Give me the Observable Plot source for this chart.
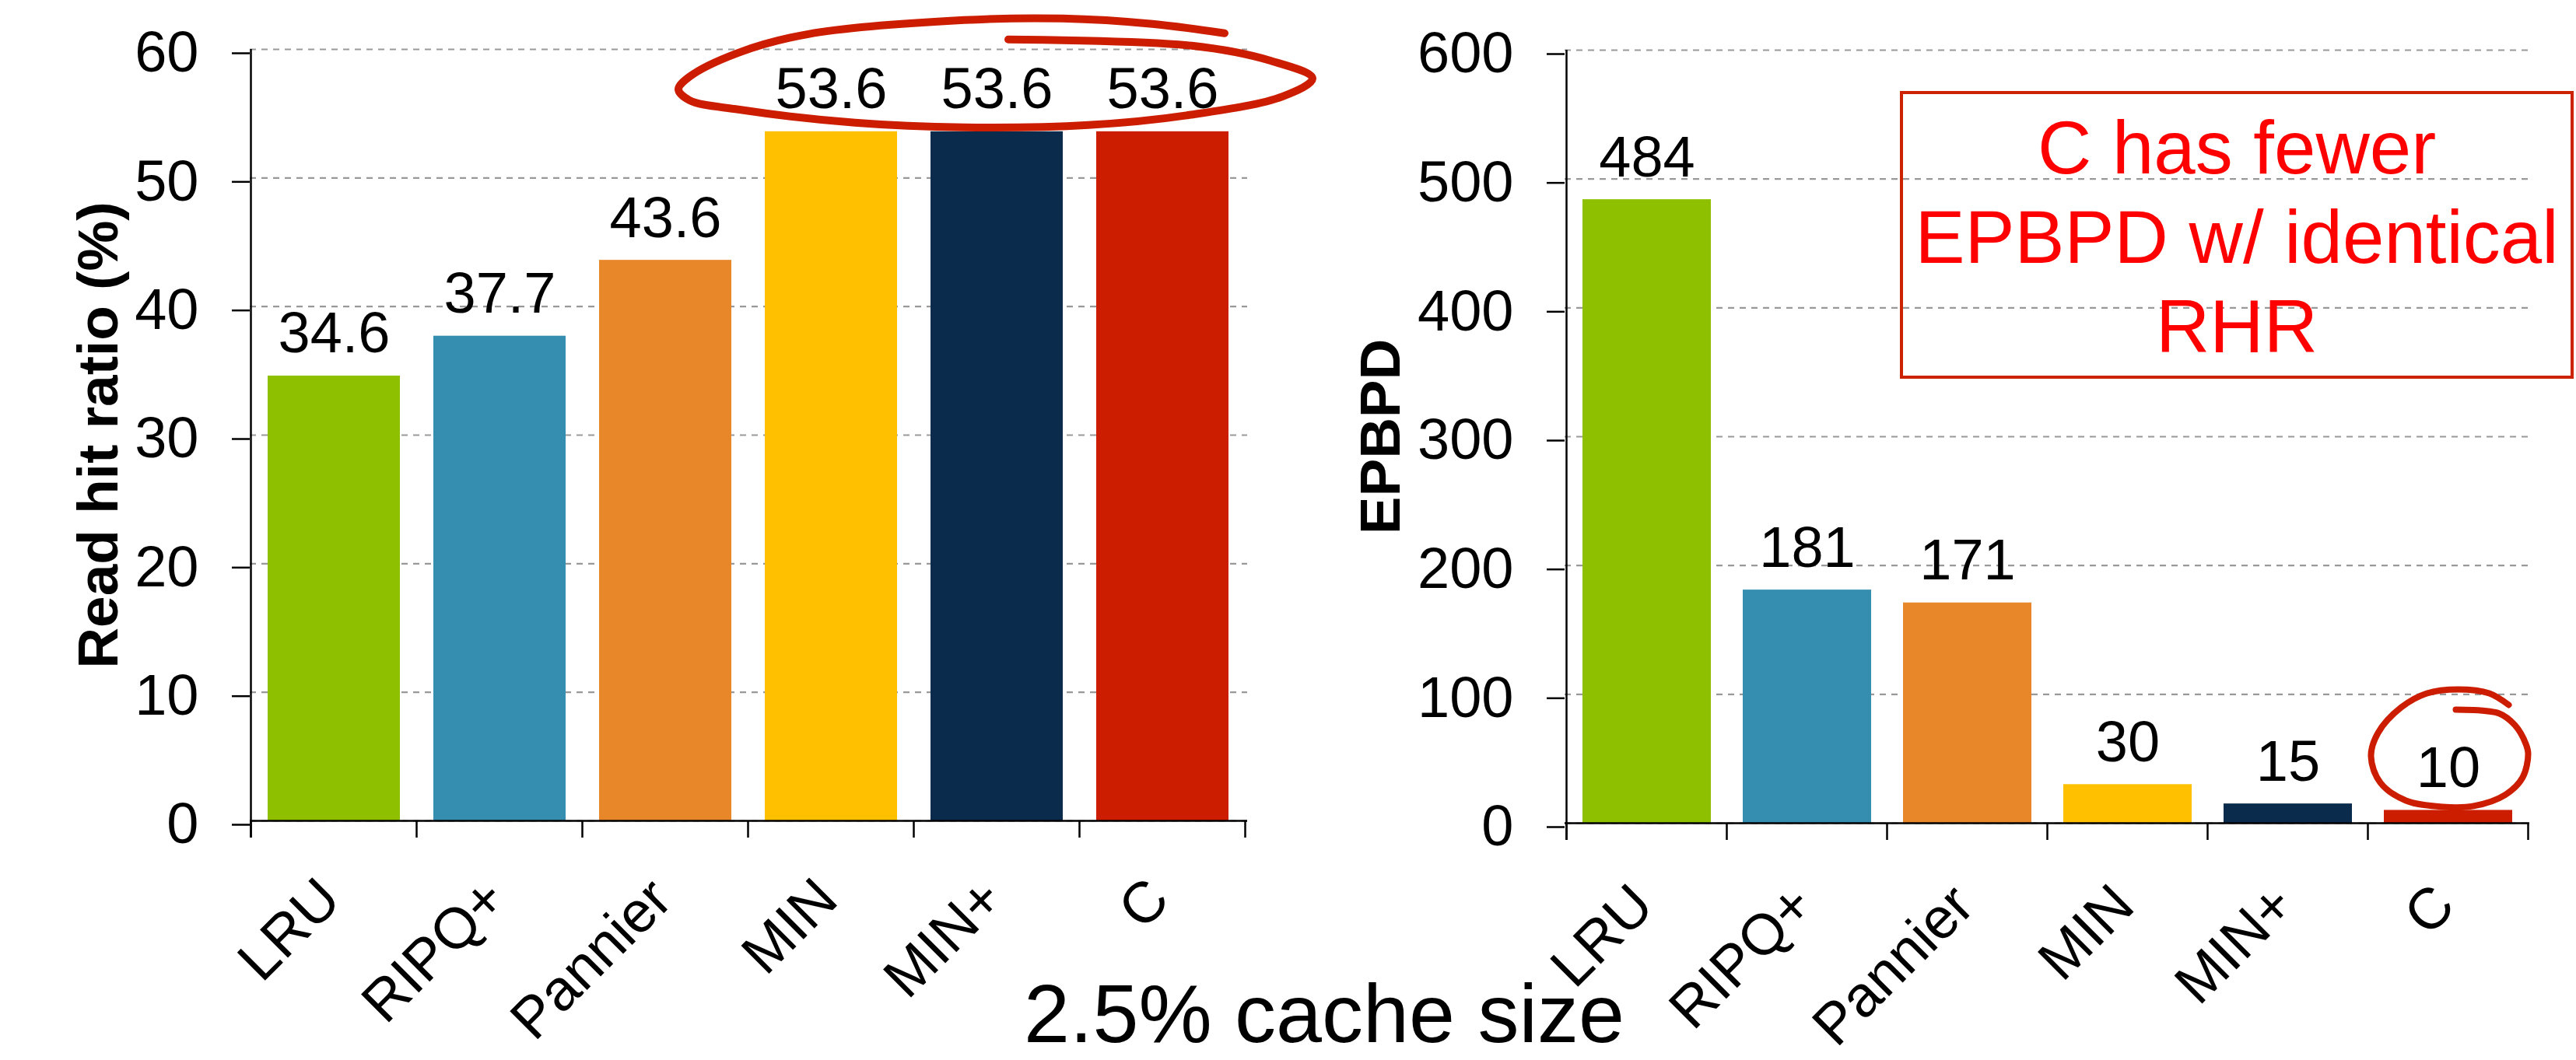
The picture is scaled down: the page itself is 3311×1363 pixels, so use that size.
<!DOCTYPE html>
<html><head><meta charset="utf-8">
<script src="https://cdn.jsdelivr.net/npm/d3@7"></script>
<script src="https://cdn.jsdelivr.net/npm/@observablehq/plot@0.6"></script>
<style>
html,body{margin:0;padding:0;background:#fff;}
#page{position:relative;width:3311px;height:1363px;overflow:hidden;background:#fff;font-family:"Liberation Sans",Arial,sans-serif;}
#left{position:absolute;left:0;top:0;width:1700px;}
#right{position:absolute;left:1700px;top:0;width:1611px;}
#note{position:absolute;left:2442px;top:117px;width:858px;height:351px;padding-top:11px;border:4px solid #cc2200;color:#ff0000;font-size:96px;line-height:115px;text-align:center;}
#caption{position:absolute;left:1202px;width:1000px;top:1255px;height:96px;text-align:center;font-size:106px;line-height:96px;color:#000;}
svg{max-width:none !important;}
</style></head><body>
<div id="page">
 <div id="left"></div>
 <div id="right"></div>
 <div id="note">C has fewer<br>EPBPD w/ identical<br>RHR</div>
 <div id="caption">2.5% cache size</div>
</div>
<script>
const categories = ["LRU", "RIPQ+", "Pannier", "MIN", "MIN+", "C"];
const readHitRatio = [34.6, 37.7, 43.6, 53.6, 53.6, 53.6];
const epbpd = [484, 181, 171, 30, 15, 10];
const barColors = ["#8fc000", "#358eb0", "#e8872a", "#ffc000", "#0a2b4b", "#cc1d00"];
const leftTicks = [0, 10, 20, 30, 40, 50, 60];
const rightTicks = [0, 100, 200, 300, 400, 500, 600];
const leftTitle = "Read hit ratio (%)";
const rightTitle = "EPBPD";
const highlightLeft = ["MIN", "C"];   // hand-drawn ellipse spans these categories
const highlightRight = "C";           // hand-drawn circle around this label

function makeChart(o) {
  const data = categories.map((c, i) => ({name: c, value: o.values[i]}));
  const plot = Plot.plot({
    width: o.width, height: o.height,
    marginLeft: o.marginLeft, marginRight: o.marginRight, marginTop: o.marginTop, marginBottom: o.marginBottom,
    style: {fontFamily: "Liberation Sans, Arial, sans-serif", fontSize: "74px", color: "#000", background: "none", overflow: "visible"},
    x: {domain: categories, paddingInner: 0.2, paddingOuter: 0.1, label: null},
    y: {domain: [0, o.ticks[o.ticks.length - 1]], label: null},
    color: {domain: categories, range: barColors},
    marks: [
      Plot.gridY(o.ticks, {stroke: "#999", strokeOpacity: 1, strokeWidth: 2.2, strokeDasharray: "8,7"}),
      Plot.barY(data, {x: "name", y: "value", fill: "name"}),
      Plot.ruleY([0], {stroke: "#000", strokeWidth: 2.5}),
      Plot.axisY(o.ticks, {tickSize: 23, tickPadding: 43, strokeWidth: 2.5, fontSize: 74, dy: 5, tickFormat: d => String(d), label: null}),
      Plot.axisX({tickSize: 0, tickPadding: o.labelPad, tickRotate: -45, fontSize: 74, dx: -5, label: null}),
      Plot.text(data, {x: "name", y: "value", text: d => o.fmt(d.value), dy: -30, lineAnchor: "bottom", fontSize: 74}),
      Plot.text([o.title], {frameAnchor: "left", dx: o.titleDx, rotate: -90, textAnchor: "middle", lineAnchor: "bottom", fontWeight: "bold", fontSize: 73})
    ]
  });
  // boundary ticks on the category axis and the vertical axis line
  const sx = plot.scale("x"), sy = plot.scale("y");
  const bw = sx.bandwidth, step = sx.step, gap = (step - bw) / 2;
  const y0 = sy.apply(0), yTop = sy.apply(sy.domain[1]);
  const svg = d3.select(plot);
  const g = svg.append("g").attr("stroke", "#000").attr("stroke-width", 2.5);
  const bounds = categories.map(c => sx.apply(c) - gap);
  bounds.push(sx.apply(categories[categories.length - 1]) + bw + gap);
  bounds.forEach(x => g.append("line").attr("x1", x).attr("x2", x).attr("y1", y0).attr("y2", y0 + 22));
  g.append("line").attr("x1", bounds[0]).attr("x2", bounds[0]).attr("y1", yTop).attr("y2", y0 + 22);
  return {plot, sx, sy, svg, bw, step};
}

const L = makeChart({values: readHitRatio, ticks: leftTicks, fmt: d3.format(".1f"), width: 1700, height: 1250,
  marginLeft: 321, marginRight: 97, marginTop: 63, marginBottom: 195, title: leftTitle, titleDx: -171, labelPad: 88});
document.getElementById("left").appendChild(L.plot);

const R = makeChart({values: epbpd, ticks: rightTicks, fmt: d3.format("d"), width: 1611, height: 1250,
  marginLeft: 311, marginRight: 60, marginTop: 64, marginBottom: 192, title: rightTitle, titleDx: -213, labelPad: 93});
document.getElementById("right").appendChild(R.plot);

// hand-drawn pen strokes (annotation), offsets relative to the scaled label anchor
const pen = d3.line().curve(d3.curveCatmullRom.alpha(0.5));
const ellipseStroke = [[15,-118],[251,-110],[351,-91],[406,-68],[368,-45],[248,-21],[118,-8],[-42,-5],[-182,-11],
  [-332,-28],[-395,-40],[-409,-54],[-395,-70],[-332,-101],[-242,-125],[-42,-143],[85,-145],[200,-138],[293,-126]];
const circleStroke = [[10,-129],[66,-124],[86,-109],[100,-85],[103,-72],[96,-42],[73,-19],[33,-5],[-7,-4],[-54,-12],
  [-87,-35],[-99,-69],[-90,-99],[-60,-132],[-27,-150],[13,-155],[53,-150],[78,-135]];
{
  const c1 = L.sx.apply(highlightLeft[0]) + L.bw / 2, c2 = L.sx.apply(highlightLeft[1]) + L.bw / 2;
  const cx = (c1 + c2) / 2, cy = L.sy.apply(readHitRatio[5]);
  L.svg.append("path").attr("d", pen(ellipseStroke.map(([dx, dy]) => [cx + dx, cy + dy])))
    .attr("fill", "none").attr("stroke", "#cc1d00").attr("stroke-width", 10).attr("stroke-linecap", "round").attr("stroke-linejoin", "round");
}
{
  const cx = R.sx.apply(highlightRight) + R.bw / 2, cy = R.sy.apply(epbpd[5]);
  R.svg.append("path").attr("d", pen(circleStroke.map(([dx, dy]) => [cx + dx, cy + dy])))
    .attr("fill", "none").attr("stroke", "#cc1d00").attr("stroke-width", 8).attr("stroke-linecap", "round").attr("stroke-linejoin", "round");
}
</script>
</body></html>
